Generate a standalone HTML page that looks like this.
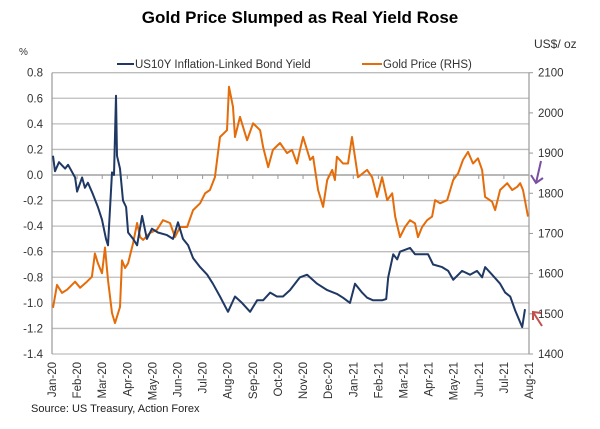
<!DOCTYPE html>
<html><head><meta charset="utf-8"><style>
body{margin:0;background:#fff;width:600px;height:424px;overflow:hidden;font-family:"Liberation Sans",Arial,sans-serif}
svg text{font-family:"Liberation Sans",Arial,sans-serif}
</style></head><body>
<svg id="chart" width="600" height="424" viewBox="0 0 600 424">
<text x="300" y="23" text-anchor="middle" font-size="17" font-weight="bold" fill="#000">Gold Price Slumped as Real Yield Rose</text>
<text x="19" y="55" font-size="10" fill="#333">%</text>
<text x="534" y="48" font-size="12" fill="#333">US$/ oz</text>
<g>
<line x1="117" y1="64" x2="134" y2="64" stroke="#1f3864" stroke-width="2"/>
<text x="135" y="68" font-size="11.5" fill="#333">US10Y Inflation-Linked Bond Yield</text>
<line x1="362" y1="64" x2="382" y2="64" stroke="#e46c0a" stroke-width="2"/>
<text x="383" y="68" font-size="11.5" fill="#333">Gold Price (RHS)</text>
</g>
<g id="grid"></g><g id="axes"></g><g id="series"></g>
<text x="31" y="412" font-size="11" fill="#222">Source: US Treasury, Action Forex</text>
<g stroke="#7b4fa0" stroke-width="2" fill="none">
<line x1="541" y1="161" x2="536" y2="183"/><polyline points="531,175 536,183 543,178"/></g>
<g stroke="#c0504d" stroke-width="2" fill="none">
<line x1="542" y1="326" x2="533" y2="312"/><polyline points="533,320 533,312 541,313"/></g>
</svg>
<script>
const months=["Jan-20","Feb-20","Mar-20","Apr-20","May-20","Jun-20","Jul-20","Aug-20","Sep-20","Oct-20","Nov-20","Dec-20","Jan-21","Feb-21","Mar-21","Apr-21","May-21","Jun-21","Jul-21","Aug-21"];
const leftTicks=[0.8,0.6,0.4,0.2,0.0,-0.2,-0.4,-0.6,-0.8,-1.0,-1.2,-1.4];
const rightTicks=[2100,2000,1900,1800,1700,1600,1500,1400];
const yieldT=[0.04,0.12,0.28,0.52,0.64,0.92,1.0,1.2,1.31,1.43,1.63,1.83,1.99,2.15,2.23,2.39,2.47,2.55,2.59,2.71,2.83,2.95,3.03,3.23,3.39,3.59,3.78,3.98,4.22,4.58,4.82,5.02,5.22,5.42,5.62,5.9,6.18,6.41,6.69,7.01,7.29,7.57,7.89,8.17,8.41,8.69,8.96,9.2,9.48,9.8,9.88,10.16,10.56,10.96,11.35,11.59,11.87,12.07,12.35,12.55,12.79,13.15,13.31,13.39,13.59,13.75,13.86,14.26,14.46,14.86,14.98,15.18,15.54,15.78,15.98,16.33,16.65,16.93,17.13,17.25,17.53,17.85,18.05,18.25,18.45,18.73,18.84];
const yieldV=[0.15,0.03,0.1,0.05,0.08,-0.02,-0.13,-0.02,-0.1,-0.06,-0.15,-0.25,-0.35,-0.5,-0.55,0.02,0.0,0.62,0.15,0.05,-0.2,-0.25,-0.45,-0.5,-0.55,-0.32,-0.5,-0.42,-0.45,-0.47,-0.5,-0.37,-0.5,-0.55,-0.65,-0.72,-0.78,-0.85,-0.95,-1.07,-0.95,-1.0,-1.07,-0.98,-0.98,-0.92,-0.95,-0.95,-0.9,-0.82,-0.8,-0.78,-0.85,-0.9,-0.93,-0.96,-1.0,-0.85,-0.92,-0.96,-0.98,-0.98,-0.97,-0.8,-0.62,-0.66,-0.6,-0.57,-0.62,-0.62,-0.62,-0.7,-0.72,-0.75,-0.82,-0.75,-0.78,-0.75,-0.8,-0.72,-0.78,-0.85,-0.92,-0.95,-1.06,-1.19,-1.05];
const goldT=[0.04,0.2,0.4,0.6,0.92,1.12,1.39,1.59,1.71,1.83,1.99,2.11,2.23,2.39,2.51,2.71,2.79,2.91,3.03,3.23,3.39,3.51,3.63,3.9,4.18,4.42,4.7,4.9,5.1,5.38,5.62,5.9,6.1,6.29,6.49,6.69,6.97,7.05,7.21,7.29,7.49,7.77,8.01,8.29,8.41,8.61,8.8,9.08,9.36,9.56,9.76,9.88,10.0,10.28,10.4,10.6,10.8,10.96,11.16,11.27,11.35,11.59,11.79,11.95,12.19,12.55,12.75,12.95,13.15,13.35,13.55,13.67,13.86,14.06,14.26,14.46,14.58,14.74,14.94,15.14,15.26,15.46,15.74,15.98,16.18,16.37,16.57,16.77,16.97,17.13,17.25,17.53,17.65,17.85,18.13,18.33,18.53,18.65,18.76,18.96];
const goldV=[1515,1572,1552,1560,1580,1565,1580,1592,1650,1626,1601,1665,1584,1502,1477,1517,1633,1614,1626,1676,1726,1691,1684,1701,1709,1733,1726,1691,1716,1716,1758,1775,1800,1808,1840,1940,1957,2065,2015,1940,1990,1932,1974,1957,1915,1865,1908,1925,1900,1908,1874,1908,1940,1883,1891,1808,1766,1833,1858,1833,1891,1874,1874,1940,1840,1858,1840,1791,1840,1783,1800,1742,1691,1716,1733,1725,1691,1716,1733,1742,1783,1775,1783,1833,1850,1883,1903,1874,1887,1858,1791,1779,1758,1808,1825,1808,1816,1825,1808,1742];

const NS="http://www.w3.org/2000/svg";
const X0=52,X1=529,Y0=72.7,Y1=354;
const xS=t=>X0+t*(X1-X0)/19;
const yL=v=>Y0+(0.8-v)*(Y1-Y0)/2.2;
const yR=v=>Y0+(2100-v)*(Y1-Y0)/700;
function mk(tag,attrs,parent){const e=document.createElementNS(NS,tag);for(const k in attrs)e.setAttribute(k,attrs[k]);parent.appendChild(e);return e;}
const grid=document.getElementById('grid'),axes=document.getElementById('axes'),series=document.getElementById('series');
leftTicks.forEach(v=>{
  const l=mk('line',{x1:X0,x2:X1,y1:yL(v),y2:yL(v),stroke:'#bdbdbd','stroke-width':1.3},grid);
  
  
  const t=mk('text',{x:43,y:yL(v)+4,'text-anchor':'end','font-size':11.5,fill:'#333'},axes);
  t.textContent=v.toFixed(1);
  
  
});
rightTicks.forEach(v=>{
  const t=mk('text',{x:538,y:yR(v)+4,'font-size':11.5,fill:'#333'},axes);
  t.textContent=v;
  
  
  mk('line',{x1:X1,x2:X1+4,y1:yR(v),y2:yR(v),stroke:'#999'},axes);
});
mk('line',{x1:X0,x2:X0,y1:Y0,y2:Y1,stroke:'#999','stroke-width':1.2},axes);
mk('line',{x1:X1,x2:X1,y1:Y0,y2:Y1,stroke:'#999','stroke-width':1.2},axes);
mk('line',{x1:X0,x2:X1,y1:yL(0),y2:yL(0),stroke:'#999','stroke-width':1.2},axes);
months.forEach((m,i)=>{
  const x=xS(i);
  mk('line',{x1:x,x2:x,y1:yL(0),y2:yL(0)+4,stroke:'#999'},axes);
  const t=mk('text',{transform:`translate(${x+4},362) rotate(-90)`,'text-anchor':'end','font-size':11.5,fill:'#333'},axes);
  t.textContent=m;
  
  
});
const gp=mk('polyline',{points:goldT.map((t,i)=>xS(t).toFixed(1)+','+yR(goldV[i]).toFixed(1)).join(' '),fill:'none',stroke:'#e46c0a','stroke-width':2,'stroke-linejoin':'round'},series);


const yp=mk('polyline',{points:yieldT.map((t,i)=>xS(t).toFixed(1)+','+yL(yieldV[i]).toFixed(1)).join(' '),fill:'none',stroke:'#1f3864','stroke-width':2,'stroke-linejoin':'round'},series);


</script>
</body></html>
